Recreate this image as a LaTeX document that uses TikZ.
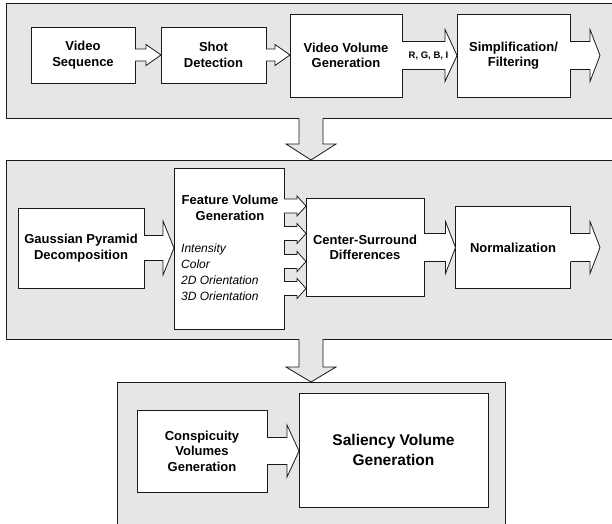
\documentclass[tikz,border=0pt]{standalone}
\usepackage{fontspec}
\setmainfont{Liberation Sans}
\usetikzlibrary{calc}
\definecolor{panelgray}{RGB}{230,230,230}
\definecolor{edgecol}{RGB}{25,25,25}
\tikzset{
  panel/.style={draw=edgecol, fill=panelgray, line width=0.8pt, inner sep=0pt, outer sep=0pt},
  box/.style={draw=edgecol, fill=white, line width=0.9pt, inner sep=0pt, outer sep=0pt,
    font=\fontsize{13}{15.5}\selectfont\bfseries, align=center},
  bigbox/.style={box, font=\fontsize{15.5}{20}\selectfont\bfseries},
  arrowline/.style={draw=edgecol, line width=0.8pt, line join=miter},
  smalllabel/.style={inner sep=0pt, font=\fontsize{9.5}{11}\selectfont\bfseries},
  titlelabel/.style={inner sep=0pt, align=center, font=\fontsize{13}{16}\selectfont\bfseries},
  listlabel/.style={inner sep=0pt, align=left, anchor=west, font=\fontsize{12}{16}\selectfont\itshape}
}
% right-pointing block arrow: start, end, shaft half, head half, head length, fill
\newcommand\rblock[6]{%
  \path[fill=#6] let \p1=(#1), \p2=(#2) in
    (\x1-0.8pt,\y1+#3) -- (\x2-#5,\y1+#3) -- (\x2-#5,\y1+#4) -- (\x2,\y1)
    -- (\x2-#5,\y1-#4) -- (\x2-#5,\y1-#3) -- (\x1-0.8pt,\y1-#3) -- cycle;
  \path[arrowline] let \p1=(#1), \p2=(#2) in
    (\x1,\y1+#3) -- (\x2-#5,\y1+#3) -- (\x2-#5,\y1+#4) -- (\x2,\y1)
    -- (\x2-#5,\y1-#4) -- (\x2-#5,\y1-#3) -- (\x1,\y1-#3);
}
% down-pointing block arrow
\newcommand\dblock[6]{%
  \path[fill=#6] let \p1=(#1), \p2=(#2) in
    (\x1-#3,\y1+0.8pt) -- (\x1-#3,\y2+#5) -- (\x1-#4,\y2+#5) -- (\x1,\y2)
    -- (\x1+#4,\y2+#5) -- (\x1+#3,\y2+#5) -- (\x1+#3,\y1+0.8pt) -- cycle;
  \path[arrowline] let \p1=(#1), \p2=(#2) in
    (\x1-#3,\y1) -- (\x1-#3,\y2+#5) -- (\x1-#4,\y2+#5) -- (\x1,\y2)
    -- (\x1+#4,\y2+#5) -- (\x1+#3,\y2+#5) -- (\x1+#3,\y1);
}
\begin{document}
\begin{tikzpicture}[x=1pt, y=-1pt]
\useasboundingbox (0,0) rectangle (612,523);
\clip (0,0) rectangle (612,523);

% panels
\node[panel, minimum width=610pt, minimum height=115pt] (p1) at (311,60.5) {};
\node[panel, minimum width=610pt, minimum height=179pt] (p2) at (311,249.5) {};
\node[panel, minimum width=388pt, minimum height=158pt] (p3) at (311,461) {};

% panel 1 boxes
\node[box, minimum width=104pt, minimum height=56pt] (vs) at (83,55) {Video\\Sequence};
\node[box, minimum width=105pt, minimum height=56pt] (sd) at (213.5,55) {Shot\\Detection};
\node[box, minimum width=112pt, minimum height=83pt] (vvg) at (346,55.5) {Video Volume\\Generation};
\node[box, minimum width=113pt, minimum height=83pt] (sf) at (513.5,55.5) {Simplification/\\Filtering};
\coordinate (out1) at (600,55.5);

% panel 2 boxes
\node[box, minimum width=126pt, minimum height=80pt] (gpd) at (81,248) {Gaussian Pyramid\\Decomposition};
\node[box, minimum width=110pt, minimum height=161pt] (fvg) at (229,248.5) {};
\node[titlelabel] (fvgt) at (230,208) {Feature Volume\\Generation};
\node[listlabel] (fvgl) at (181,272.5) {Intensity\\Color\\2D Orientation\\3D Orientation};
\node[box, minimum width=118pt, minimum height=98pt] (csd) at (365,247.5) {Center-Surround\\Differences};
\node[box, minimum width=115pt, minimum height=82pt] (nrm) at (513,247.5) {Normalization};
\coordinate (out2) at (600,247.5);

% panel 3 boxes
\node[box, minimum width=130pt, minimum height=82pt] (cv) at (202,451) {Conspicuity\\Volumes\\Generation};
\node[bigbox, minimum width=189pt, minimum height=114pt] (svg) at (393.5,450) {Saliency Volume\\Generation};

% arrows panel 1
\rblock{vs.east}{sd.west}{6pt}{10.5pt}{15pt}{white}
\rblock{sd.east}{vvg.west}{6pt}{10.5pt}{15pt}{white}
\rblock{vvg.east}{sf.west}{14pt}{26pt}{12pt}{white}
\node[smalllabel] (rgbi) at ($(vvg.east)!0.5!(sf.west)+(-1,0.5)$) {R, G, B, I};
\rblock{sf.east}{out1}{14pt}{26pt}{10pt}{white}

% arrows panel 2
\rblock{gpd.east}{fvg.west}{12.5pt}{27pt}{11pt}{white}
\rblock{$(fvg.north east)+(0,38)$}{csd.west}{7pt}{10pt}{9pt}{white}
\rblock{$(fvg.north east)+(0,65.5)$}{csd.west}{7pt}{10pt}{9pt}{white}
\rblock{$(fvg.north east)+(0,93.5)$}{csd.west}{7pt}{10pt}{9pt}{white}
\rblock{$(fvg.north east)+(0,120.5)$}{csd.west}{7pt}{10pt}{9pt}{white}
\rblock{csd.east}{nrm.west}{14pt}{26pt}{10pt}{white}
\rblock{nrm.east}{out2}{14pt}{26pt}{10pt}{white}

% arrow panel 3
\rblock{cv.east}{svg.west}{13.5pt}{26pt}{12pt}{white}

% down arrows between panels
\dblock{p1.south}{p2.north}{12pt}{25pt}{16pt}{panelgray}
\dblock{p2.south}{p3.north}{12pt}{25pt}{15pt}{panelgray}
\end{tikzpicture}
\end{document}
